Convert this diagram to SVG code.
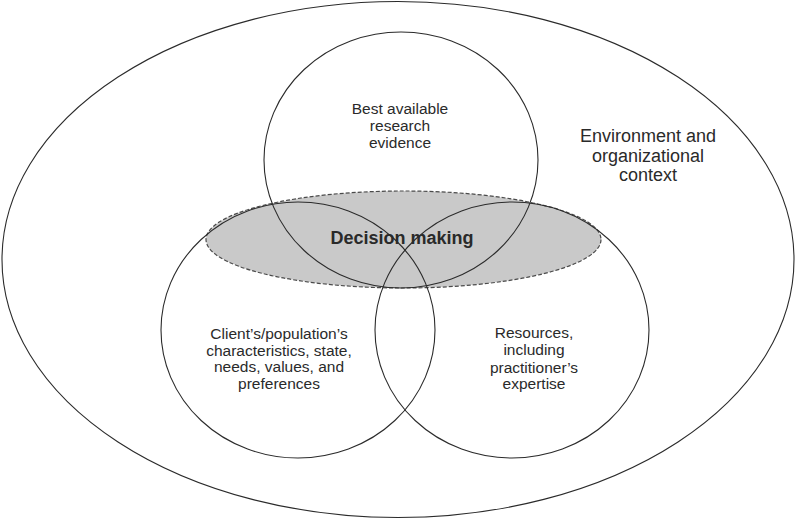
<svg xmlns="http://www.w3.org/2000/svg" width="796" height="520" viewBox="0 0 796 520">
<style>
.line{fill:none;stroke:#2b2b2b;stroke-width:1.1}
.dm{fill:#c9c9c9;stroke:#4a4a4a;stroke-width:1.2;stroke-dasharray:4 2}
text{font-family:"Liberation Sans",Arial,sans-serif;fill:#2a2a2a;text-anchor:middle}
.t{font-size:15.5px}
.env{font-size:18px}
.b{font-size:18px;font-weight:bold}
</style>
<rect width="796" height="520" fill="#ffffff"/>
<g id="environment">
<ellipse class="line" cx="398" cy="259.5" rx="396" ry="258"/>
<text class="env" x="648" y="142">Environment and</text>
<text class="env" x="648" y="162">organizational</text>
<text class="env" x="648" y="181">context</text>
</g>
<g id="decision-making">
<ellipse class="dm" cx="403.5" cy="239.5" rx="197.5" ry="48.5"/>
</g>
<g id="research-evidence">
<ellipse class="line" cx="401" cy="160" rx="137" ry="128"/>
<text class="t" x="400" y="114">Best available</text>
<text class="t" x="400" y="131">research</text>
<text class="t" x="400" y="148">evidence</text>
</g>
<g id="client">
<ellipse class="line" cx="298" cy="330" rx="137" ry="128"/>
<text class="t" x="279" y="339">Client’s/population’s</text>
<text class="t" x="279" y="355.5">characteristics, state,</text>
<text class="t" x="279" y="372">needs, values, and</text>
<text class="t" x="279" y="388.5">preferences</text>
</g>
<g id="resources">
<ellipse class="line" cx="512" cy="330" rx="137" ry="128"/>
<text class="t" x="534" y="338">Resources,</text>
<text class="t" x="534" y="355">including</text>
<text class="t" x="534" y="372.5">practitioner’s</text>
<text class="t" x="534" y="389">expertise</text>
</g>
<g id="decision-label">
<text class="b" x="402" y="244">Decision making</text>
</g>
<g id="connectors"></g>
</svg>
